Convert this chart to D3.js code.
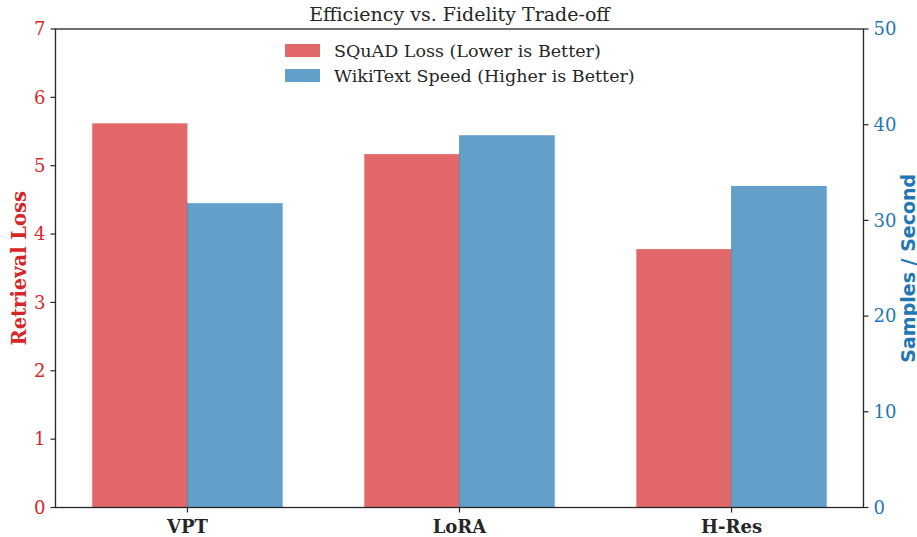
<!DOCTYPE html>
<html>
<head>
<meta charset="utf-8">
<script src="https://cdn.jsdelivr.net/npm/d3@7"></script>
<style>
  body { margin: 0; background: #fff; }
  svg text { font-family: "DejaVu Serif", serif; }
</style>
</head>
<body>
<svg id="chart" width="917" height="537"></svg>
<script>
// data
var methods = ["VPT", "LoRA", "H-Res"]
var squadLoss = [5.62, 5.17, 3.78]
var wikiSpeed = [31.8, 38.9, 33.6]
var leftTicks = [0, 1, 2, 3, 4, 5, 6, 7]
var rightTicks = [0, 10, 20, 30, 40, 50]
var seriesNames = ["SQuAD Loss (Lower is Better)", "WikiText Speed (Higher is Better)"]

var red = "#d62728"
var blue = "#1f77b4"

// plot area (note: "top" is reserved on window, so use other names)
var plotL = 55.5, plotR = 863.5, plotT = 29, plotB = 507.5
var barW = 0.35

var svg = d3.select("#chart")

var x = d3.scaleLinear().domain([-0.485, 2.485]).range([plotL, plotR])
var yL = d3.scaleLinear().domain([0, 7]).range([plotB, plotT])
var yR = d3.scaleLinear().domain([0, 50]).range([plotB, plotT])

// bars
svg.append("g").selectAll("rect")
    .data(squadLoss)
    .enter()
    .append("rect")
    .attr("x", function(d,i){ return x(i - barW); })
    .attr("y", function(d){ return yL(d); })
    .attr("width", function(d,i){ return x(i) - x(i - barW); })
    .attr("height", function(d){ return plotB - yL(d); })
    .attr("fill", red)
    .attr("fill-opacity", 0.7)

svg.append("g").selectAll("rect")
    .data(wikiSpeed)
    .enter()
    .append("rect")
    .attr("x", function(d,i){ return x(i) - 0.5; })
    .attr("y", function(d){ return yR(d); })
    .attr("width", function(d,i){ return x(i + barW) - x(i) + 0.5; })
    .attr("height", function(d){ return plotB - yR(d); })
    .attr("fill", blue)
    .attr("fill-opacity", 0.7)

// frame
svg.append("rect")
    .attr("x", plotL).attr("y", plotT)
    .attr("width", plotR - plotL).attr("height", plotB - plotT)
    .attr("fill", "none").attr("stroke", "#262626").attr("stroke-width", 1.3)

// left axis
var gL = svg.append("g")
gL.selectAll("line").data(leftTicks).enter().append("line")
    .attr("x1", plotL - 5).attr("x2", plotL)
    .attr("y1", function(d){ return yL(d); })
    .attr("y2", function(d){ return yL(d); })
    .attr("stroke", "#262626").attr("stroke-width", 1.2)
gL.selectAll("text").data(leftTicks).enter().append("text")
    .attr("x", plotL - 10)
    .attr("y", function(d){ return yL(d); })
    .attr("dy", "0.35em")
    .attr("text-anchor", "end")
    .attr("font-size", "18px")
    .attr("fill", red)
    .text(function(d){ return d; })

// right axis
var gR = svg.append("g")
gR.selectAll("line").data(rightTicks).enter().append("line")
    .attr("x1", plotR).attr("x2", plotR + 5)
    .attr("y1", function(d){ return yR(d); })
    .attr("y2", function(d){ return yR(d); })
    .attr("stroke", "#262626").attr("stroke-width", 1.2)
gR.selectAll("text").data(rightTicks).enter().append("text")
    .attr("x", plotR + 10)
    .attr("y", function(d){ return yR(d); })
    .attr("dy", "0.35em")
    .attr("text-anchor", "start")
    .attr("font-size", "18px")
    .attr("fill", blue)
    .text(function(d){ return d; })

// x axis
var gX = svg.append("g")
gX.selectAll("line").data(methods).enter().append("line")
    .attr("x1", function(d,i){ return x(i); })
    .attr("x2", function(d,i){ return x(i); })
    .attr("y1", plotB).attr("y2", plotB + 5)
    .attr("stroke", "#262626").attr("stroke-width", 1.2)
gX.selectAll("text").data(methods).enter().append("text")
    .attr("x", function(d,i){ return x(i); })
    .attr("y", plotB + 25)
    .attr("text-anchor", "middle")
    .attr("font-size", "18px")
    .attr("font-weight", "bold")
    .attr("fill", "#262626")
    .text(function(d){ return d; })

// axis labels
svg.append("text")
    .attr("transform", "translate(26," + ((plotT + plotB) / 2) + ") rotate(-90)")
    .attr("text-anchor", "middle")
    .attr("font-size", "19.5px")
    .attr("font-weight", "bold")
    .attr("fill", red)
    .text("Retrieval Loss")

svg.append("text")
    .attr("transform", "translate(915," + ((plotT + plotB) / 2) + ") rotate(-90)")
    .attr("text-anchor", "middle")
    .attr("font-size", "19px")
    .attr("font-weight", "bold")
    .style("font-family", "'DejaVu Sans', sans-serif")
    .attr("fill", blue)
    .text("Samples / Second")

// title
svg.append("text")
    .attr("x", (plotL + plotR) / 2)
    .attr("y", 21)
    .attr("text-anchor", "middle")
    .attr("font-size", "19px")
    .attr("fill", "#262626")
    .text("Efficiency vs. Fidelity Trade-off")

// legend
var legend = svg.append("g").attr("transform", "translate(285,44)")
var legColors = [red, blue]
seriesNames.forEach(function(name, i){
    legend.append("rect")
        .attr("x", 0).attr("y", i * 25)
        .attr("width", 35).attr("height", 13)
        .attr("fill", legColors[i]).attr("fill-opacity", 0.7)
    legend.append("text")
        .attr("x", 49).attr("y", i * 25 + 6.5)
        .attr("dy", "0.35em")
        .attr("font-size", "17.5px")
        .attr("fill", "#262626")
        .text(name)
})
</script>
</body>
</html>
